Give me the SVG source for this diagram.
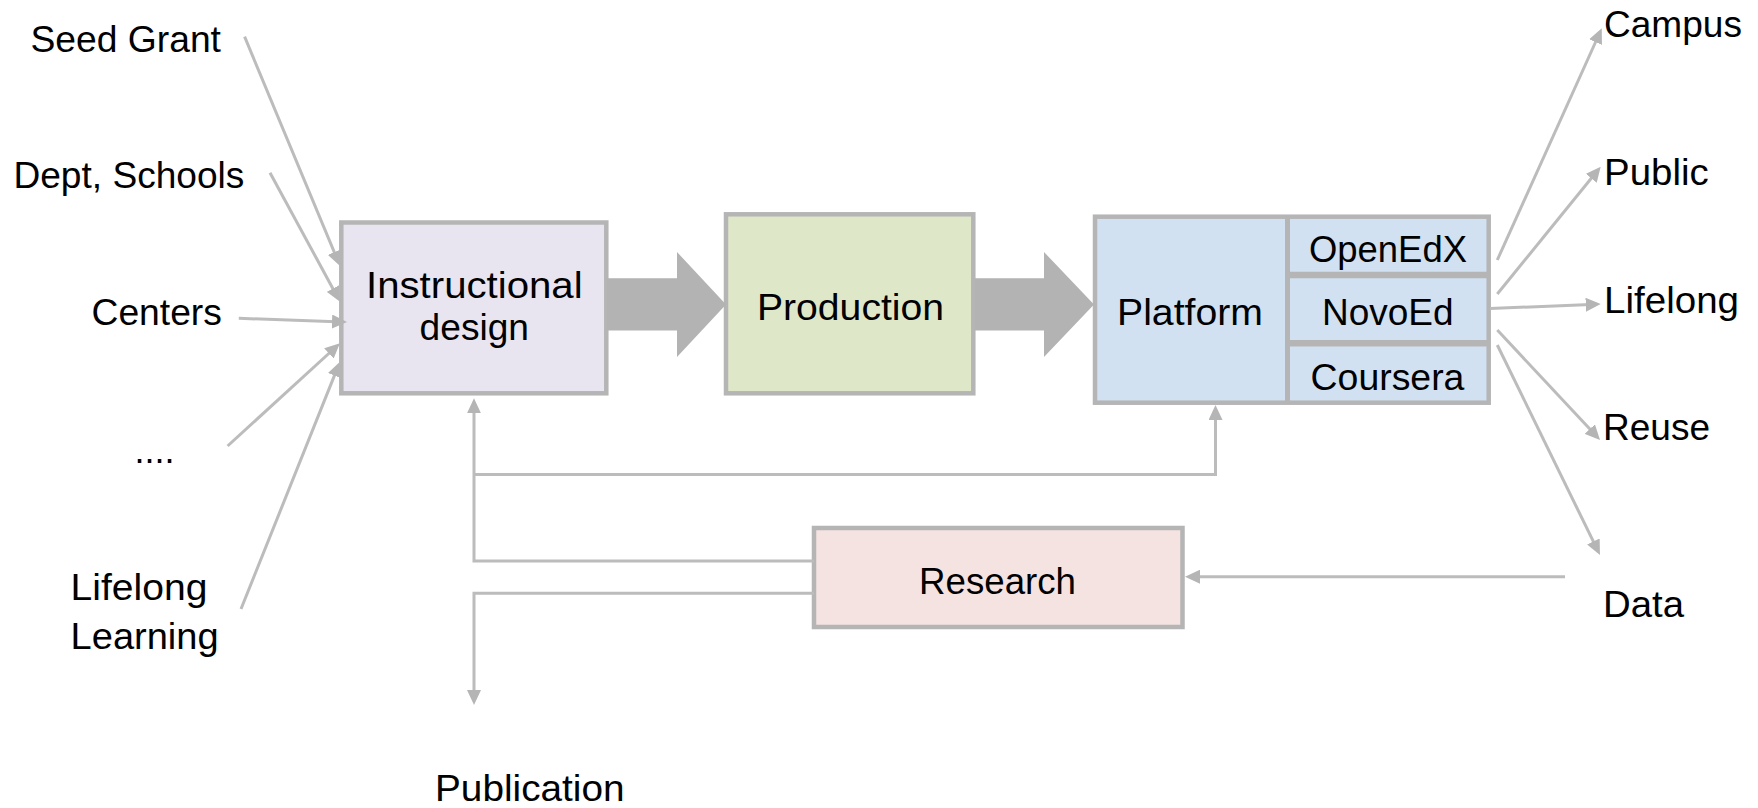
<svg xmlns="http://www.w3.org/2000/svg" width="1758" height="808" viewBox="0 0 1758 808">
<style>
text{font-family:"Liberation Sans",Arial,sans-serif;font-size:36px;fill:#000}
.box{stroke:#b5b5b5;stroke-width:4.5}
.conn{fill:none;stroke:#bcbcbc;stroke-width:3}
.big{fill:#b3b3b3}
.grid{stroke:#b5b5b5;fill:none}
</style>
<defs>
<marker id="ah" viewBox="0 0 15 14" refX="11" refY="7" markerWidth="15" markerHeight="14" markerUnits="userSpaceOnUse" orient="auto">
<path d="M0,0 L15,7 L0,14 z" fill="#b5b5b5"/>
</marker>
</defs>
<rect width="1758" height="808" fill="#fff"/>

<g id="sources">
<text x="30.4" y="51.7" textLength="190.6" lengthAdjust="spacingAndGlyphs">Seed Grant</text>
<text x="13.4" y="188.3" textLength="231" lengthAdjust="spacingAndGlyphs">Dept, Schools</text>
<text x="91.5" y="325" textLength="130.4" lengthAdjust="spacingAndGlyphs">Centers</text>
<text x="134.5" y="463">....</text>
<text x="70.6" y="600" textLength="136.8" lengthAdjust="spacingAndGlyphs">Lifelong</text>
<text x="70.6" y="649" textLength="148" lengthAdjust="spacingAndGlyphs">Learning</text>
</g>

<g id="instructional-design">
<rect class="box" x="341.3" y="222.5" width="265" height="170.8" fill="#e9e5f0"/>
<text x="366" y="297.7" textLength="216.6" lengthAdjust="spacingAndGlyphs">Instructional</text>
<text x="419.6" y="340" textLength="109.4" lengthAdjust="spacingAndGlyphs">design</text>
</g>

<g id="production">
<rect class="box" x="726" y="214.3" width="247.3" height="179" fill="#dfe7c9"/>
<text x="757" y="320" textLength="187" lengthAdjust="spacingAndGlyphs">Production</text>
</g>

<g id="platform">
<rect class="box" x="1095" y="216.7" width="393.7" height="186" fill="#d2e1f2" stroke-width="5"/>
<line class="grid" x1="1287.5" y1="216.7" x2="1287.5" y2="402.7" stroke-width="5"/>
<line class="grid" x1="1287.5" y1="275" x2="1488.7" y2="275" stroke-width="6.5"/>
<line class="grid" x1="1287.5" y1="343.3" x2="1488.7" y2="343.3" stroke-width="6.5"/>
<text x="1117" y="325" textLength="146" lengthAdjust="spacingAndGlyphs">Platform</text>
<text x="1309" y="261.7" textLength="158" lengthAdjust="spacingAndGlyphs">OpenEdX</text>
<text x="1322" y="325" textLength="131.6" lengthAdjust="spacingAndGlyphs">NovoEd</text>
<text x="1310.6" y="390" textLength="153.8" lengthAdjust="spacingAndGlyphs">Coursera</text>
</g>

<g id="research">
<rect class="box" x="814" y="528" width="368.5" height="99" fill="#f4e3e1"/>
<text x="919" y="594" textLength="157" lengthAdjust="spacingAndGlyphs">Research</text>
</g>

<g id="outputs">
<text x="1604" y="37.3" textLength="138" lengthAdjust="spacingAndGlyphs">Campus</text>
<text x="1604" y="185" textLength="104.7" lengthAdjust="spacingAndGlyphs">Public</text>
<text x="1604" y="313" textLength="135" lengthAdjust="spacingAndGlyphs">Lifelong</text>
<text x="1603" y="440" textLength="107" lengthAdjust="spacingAndGlyphs">Reuse</text>
<text x="1603" y="617" textLength="81" lengthAdjust="spacingAndGlyphs">Data</text>
</g>

<g id="publication">
<text x="435" y="801" textLength="189.5" lengthAdjust="spacingAndGlyphs">Publication</text>
</g>

<g id="connectors">
<polygon class="big" points="607,278.3 677,278.3 677,252 726,304.5 677,357 677,330.5 607,330.5"/>
<polygon class="big" points="975,278.3 1044,278.3 1044,252 1094,304.5 1044,357 1044,330.5 975,330.5"/>

<line class="conn" x1="244.6" y1="36.7" x2="338.5" y2="262.3" marker-end="url(#ah)"/>
<line class="conn" x1="270" y1="172.7" x2="338.1" y2="298.2" marker-end="url(#ah)"/>
<line class="conn" x1="238.8" y1="318.3" x2="343" y2="321.9" marker-end="url(#ah)"/>
<line class="conn" x1="227.6" y1="446" x2="337" y2="346" marker-end="url(#ah)"/>
<line class="conn" x1="241" y1="609" x2="338.5" y2="365.4" marker-end="url(#ah)"/>

<line class="conn" x1="1497.3" y1="260" x2="1600.1" y2="32" marker-end="url(#ah)"/>
<line class="conn" x1="1497.3" y1="294" x2="1598.2" y2="169.8" marker-end="url(#ah)"/>
<line class="conn" x1="1490" y1="308.5" x2="1596.7" y2="304.2" marker-end="url(#ah)"/>
<line class="conn" x1="1497.3" y1="330" x2="1597.3" y2="437.1" marker-end="url(#ah)"/>
<line class="conn" x1="1497.3" y1="345" x2="1598.2" y2="551.4" marker-end="url(#ah)"/>

<path class="conn" d="M814,561 H474 V402.3" marker-end="url(#ah)"/>
<path class="conn" d="M474,474.5 H1215.5 V409" marker-end="url(#ah)"/>
<path class="conn" d="M814,593.3 H474 V701" marker-end="url(#ah)"/>
<line class="conn" x1="1565" y1="576.7" x2="1189" y2="576.7" marker-end="url(#ah)"/>
</g>
</svg>
